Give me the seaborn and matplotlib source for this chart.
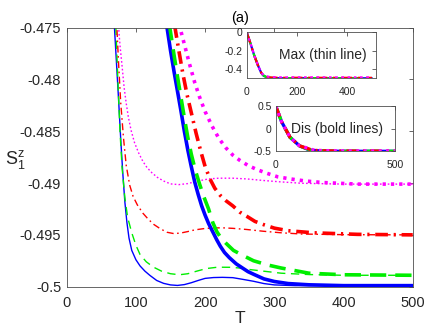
import matplotlib
matplotlib.use("Agg")
import matplotlib.pyplot as plt
import seaborn as sns

# thin lines (Max)
blue_thin_T = [0, 15, 30, 45, 58, 65, 69, 72, 75, 78, 81, 84, 87, 90, 94, 100, 106, 113, 120, 130, 140, 150,
               160, 170, 180, 190, 200, 212, 225, 240, 255, 270, 285, 300, 330, 400, 500]
blue_thin = [0, -0.12, -0.25, -0.36, -0.44, -0.466, -0.475, -0.4785, -0.4820, -0.4857, -0.4890, -0.4918,
             -0.4938, -0.4953, -0.4965, -0.4974, -0.4980, -0.4985, -0.4989, -0.4994, -0.49968, -0.49983,
             -0.49988, -0.4998, -0.49962, -0.4994, -0.4992, -0.49912, -0.4991, -0.49913, -0.4993,
             -0.49948, -0.4997, -0.49983, -0.4999, -0.4999, -0.4999]

green_thin_T = [0, 15, 30, 45, 58, 66, 71, 74, 77, 80, 84, 88, 94, 100, 106, 115, 125, 137, 150, 163, 175,
                188, 202, 218, 236, 250, 265, 284, 310, 350, 400, 500]
green_thin = [0, -0.12, -0.25, -0.36, -0.44, -0.466, -0.475, -0.4802, -0.4850, -0.4885, -0.4914, -0.4933,
              -0.4948, -0.4960, -0.4969, -0.4976, -0.4981, -0.4985, -0.49875, -0.49885, -0.49875,
              -0.4985, -0.49825, -0.49812, -0.49813, -0.4982, -0.49835, -0.4985, -0.4987, -0.49883,
              -0.4989, -0.4989]

red_thin_T = [0, 15, 30, 45, 58, 67, 72.5, 75, 78, 82, 86, 91, 96, 102, 110, 118, 126, 135, 145, 155, 165,
              175, 185, 198, 212, 225, 240, 260, 284, 310, 340, 400, 500]
red_thin = [0, -0.12, -0.25, -0.36, -0.44, -0.466, -0.475, -0.4785, -0.4822, -0.4856, -0.4883, -0.4902,
            -0.4913, -0.4921, -0.4929, -0.4935, -0.4940, -0.4944, -0.49475, -0.49488, -0.49482,
            -0.49468, -0.49452, -0.4944, -0.49433, -0.49432, -0.49437, -0.49448, -0.49465, -0.4948,
            -0.49492, -0.49498, -0.495]

mag_thin_T = [0, 15, 30, 45, 58, 68, 75, 77, 80, 83, 86, 89, 93, 98, 104, 110, 116, 123, 131, 140, 150, 162,
              175, 190, 205, 220, 240, 260, 284, 308, 340, 400, 500]
mag_thin = [0, -0.12, -0.25, -0.36, -0.44, -0.466, -0.475, -0.4767, -0.4787, -0.4808, -0.4823, -0.4836,
            -0.4849, -0.4861, -0.4871, -0.4879, -0.4885, -0.4890, -0.48945, -0.4898, -0.49008,
            -0.49015, -0.49005, -0.4898, -0.4896, -0.48953, -0.48953, -0.4896, -0.48975, -0.48988,
            -0.49002, -0.4901, -0.4901]

# bold lines (Dis)
blue_bold_T = [0, 25, 60, 100, 130, 140, 145, 150, 155, 160, 165, 170, 175, 180, 185, 190, 195, 200, 205, 211,
               217, 222, 228, 235, 245, 254, 262, 270, 285, 300, 320, 350, 400, 500]
blue_bold = [0.5, 0.15, -0.19, -0.38, -0.445, -0.469, -0.475, -0.4772, -0.4792, -0.4811, -0.4830, -0.4850,
             -0.4868, -0.4884, -0.4899, -0.4911, -0.4922, -0.4931, -0.4939, -0.4947, -0.4955, -0.4961,
             -0.4967, -0.4972, -0.4978, -0.4982, -0.49855, -0.4988, -0.49925, -0.4995, -0.4997,
             -0.49982, -0.4999, -0.4999]

green_bold_T = [0, 25, 60, 100, 132, 144, 149, 155, 160, 165, 170, 175, 180, 186, 192, 198, 205, 211, 217,
                223, 230, 241, 255, 270, 290, 310, 330, 350, 400, 500]
green_bold = [0.5, 0.15, -0.19, -0.38, -0.445, -0.469, -0.475, -0.4776, -0.4797, -0.4817, -0.4837, -0.4856,
              -0.4872, -0.4888, -0.4901, -0.4913, -0.4925, -0.4938, -0.4947, -0.4953, -0.4958, -0.4965,
              -0.4970, -0.4975, -0.4979, -0.4982, -0.49845, -0.4987, -0.49885, -0.4989]

red_bold_T = [0, 25, 60, 100, 138, 150, 156.5, 162, 168, 174, 180, 187, 194, 200, 207, 214, 222, 230, 240,
              250, 260, 272, 284, 300, 320, 356, 420, 500]
red_bold = [0.5, 0.15, -0.19, -0.38, -0.445, -0.469, -0.475, -0.4772, -0.4795, -0.4815, -0.4832, -0.4852,
            -0.4870, -0.4884, -0.4896, -0.4905, -0.4912, -0.4917, -0.4922, -0.4928, -0.4932, -0.4937,
            -0.4940, -0.49435, -0.4946, -0.4948, -0.49495, -0.495]

mag_bold_T = [0, 25, 60, 100, 145, 157, 163.7, 170, 177, 185, 192, 200, 210, 220, 230, 240, 250, 262, 275,
              289, 305, 323, 345, 370, 420, 500]
mag_bold = [0.5, 0.15, -0.19, -0.38, -0.445, -0.469, -0.475, -0.4766, -0.4784, -0.4803, -0.4817, -0.4831,
            -0.4845, -0.4857, -0.4866, -0.4873, -0.4878, -0.4883, -0.4887, -0.48905, -0.4894, -0.4896,
            -0.4898, -0.48995, -0.4901, -0.4901]

x_ticks = [0, 100, 200, 300, 400, 500]
y_ticks = [-0.5, -0.495, -0.49, -0.485, -0.48, -0.475]

sns.set_style("white")
plt.rcParams["font.family"] = ["Liberation Sans", "DejaVu Sans"]
plt.rcParams["axes.unicode_minus"] = False
plt.rcParams["mathtext.fontset"] = "custom"
plt.rcParams["mathtext.rm"] = "Liberation Sans"

BLUE, GREEN, RED, MAG = "#0000ff", "#00ee00", "#ff0000", "#ff00ff"
TXT = "#262626"

thin = [
    (blue_thin_T, blue_thin, BLUE, 1.0, "-"),
    (green_thin_T, green_thin, GREEN, 1.0, (0, (6, 4))),
    (red_thin_T, red_thin, RED, 1.0, (0, (5, 2.5, 1.2, 2.5))),
    (mag_thin_T, mag_thin, MAG, 1.0, (0, (1.2, 1.6))),
]
bold = [
    (blue_bold_T, blue_bold, BLUE, 2.6, "-"),
    (green_bold_T, green_bold, GREEN, 2.6, (0, (4.5, 2.5))),
    (red_bold_T, red_bold, RED, 2.6, (0, (3.5, 1.6, 0.6, 1.6))),
    (mag_bold_T, mag_bold, MAG, 2.6, (0, (0.9, 1.4))),
]


def style_axes(ax, fs, xpad, ypad):
    for sp in ax.spines.values():
        sp.set_color("0.3")
        sp.set_linewidth(0.6)
    ax.tick_params(direction="in", top=True, right=True, length=3, width=0.6,
                   colors="0.3", labelcolor=TXT, labelsize=fs)
    ax.tick_params(axis="x", pad=xpad)
    ax.tick_params(axis="y", pad=ypad)


def draw(ax, curves, scale=1.0):
    for t, v, c, lw, ls in curves:
        sns.lineplot(x=t, y=v, ax=ax, color=c, linewidth=lw * scale, linestyle=ls,
                     estimator=None, sort=False)


fig = plt.figure(figsize=(4.36, 3.28), dpi=100)
ax = fig.add_axes([0.153, 0.126, 0.7936, 0.7897])
draw(ax, thin)
draw(ax, bold)
ax.set_xlim(0, 500)
ax.set_ylim(-0.5, -0.475)
ax.set_xticks(x_ticks)
ax.set_yticks(y_ticks)
ax.set_yticklabels(["%g" % v for v in y_ticks])
style_axes(ax, 10.5, 6.5, 4)
ax.set_xlabel("T", fontsize=12.5, color=TXT, labelpad=1)
ax.set_ylabel(r"$\mathregular{S_1^z}$", fontsize=13, color=TXT, rotation=0, ha="center", va="center")
ax.yaxis.set_label_coords(-0.148, 0.49)
ax.set_title("(a)", fontsize=10.5, color="black", pad=4)

ins1 = fig.add_axes([0.5658, 0.7613, 0.2959, 0.1402])
ins1.set_facecolor("white")
draw(ins1, thin, 1.6)
ins1.set_xlim(0, 515)
ins1.set_ylim(-0.5, 0)
ins1.set_xticks([0, 200, 400])
ins1.set_yticks([-0.4, -0.2, 0])
ins1.set_yticklabels(["%g" % v for v in [-0.4, -0.2, 0]])
style_axes(ins1, 7.5, 6.5, 3)
ins1.text(0.59, 0.5, "Max (thin line)", transform=ins1.transAxes, ha="center", va="center",
          fontsize=10, color=TXT)

ins2 = fig.add_axes([0.6323, 0.5387, 0.2736, 0.1381])
ins2.set_facecolor("white")
draw(ins2, bold, 0.9)
ins2.set_xlim(0, 500)
ins2.set_ylim(-0.5, 0.5)
ins2.set_xticks([0, 500])
ins2.set_yticks([-0.5, 0, 0.5])
ins2.set_yticklabels(["%g" % v for v in [-0.5, 0, 0.5]])
style_axes(ins2, 7.5, 6.5, 3)
ins2.text(0.515, 0.49, "Dis (bold lines)", transform=ins2.transAxes, ha="center", va="center",
          fontsize=10, color=TXT)

fig.savefig("out.png", dpi=100)
